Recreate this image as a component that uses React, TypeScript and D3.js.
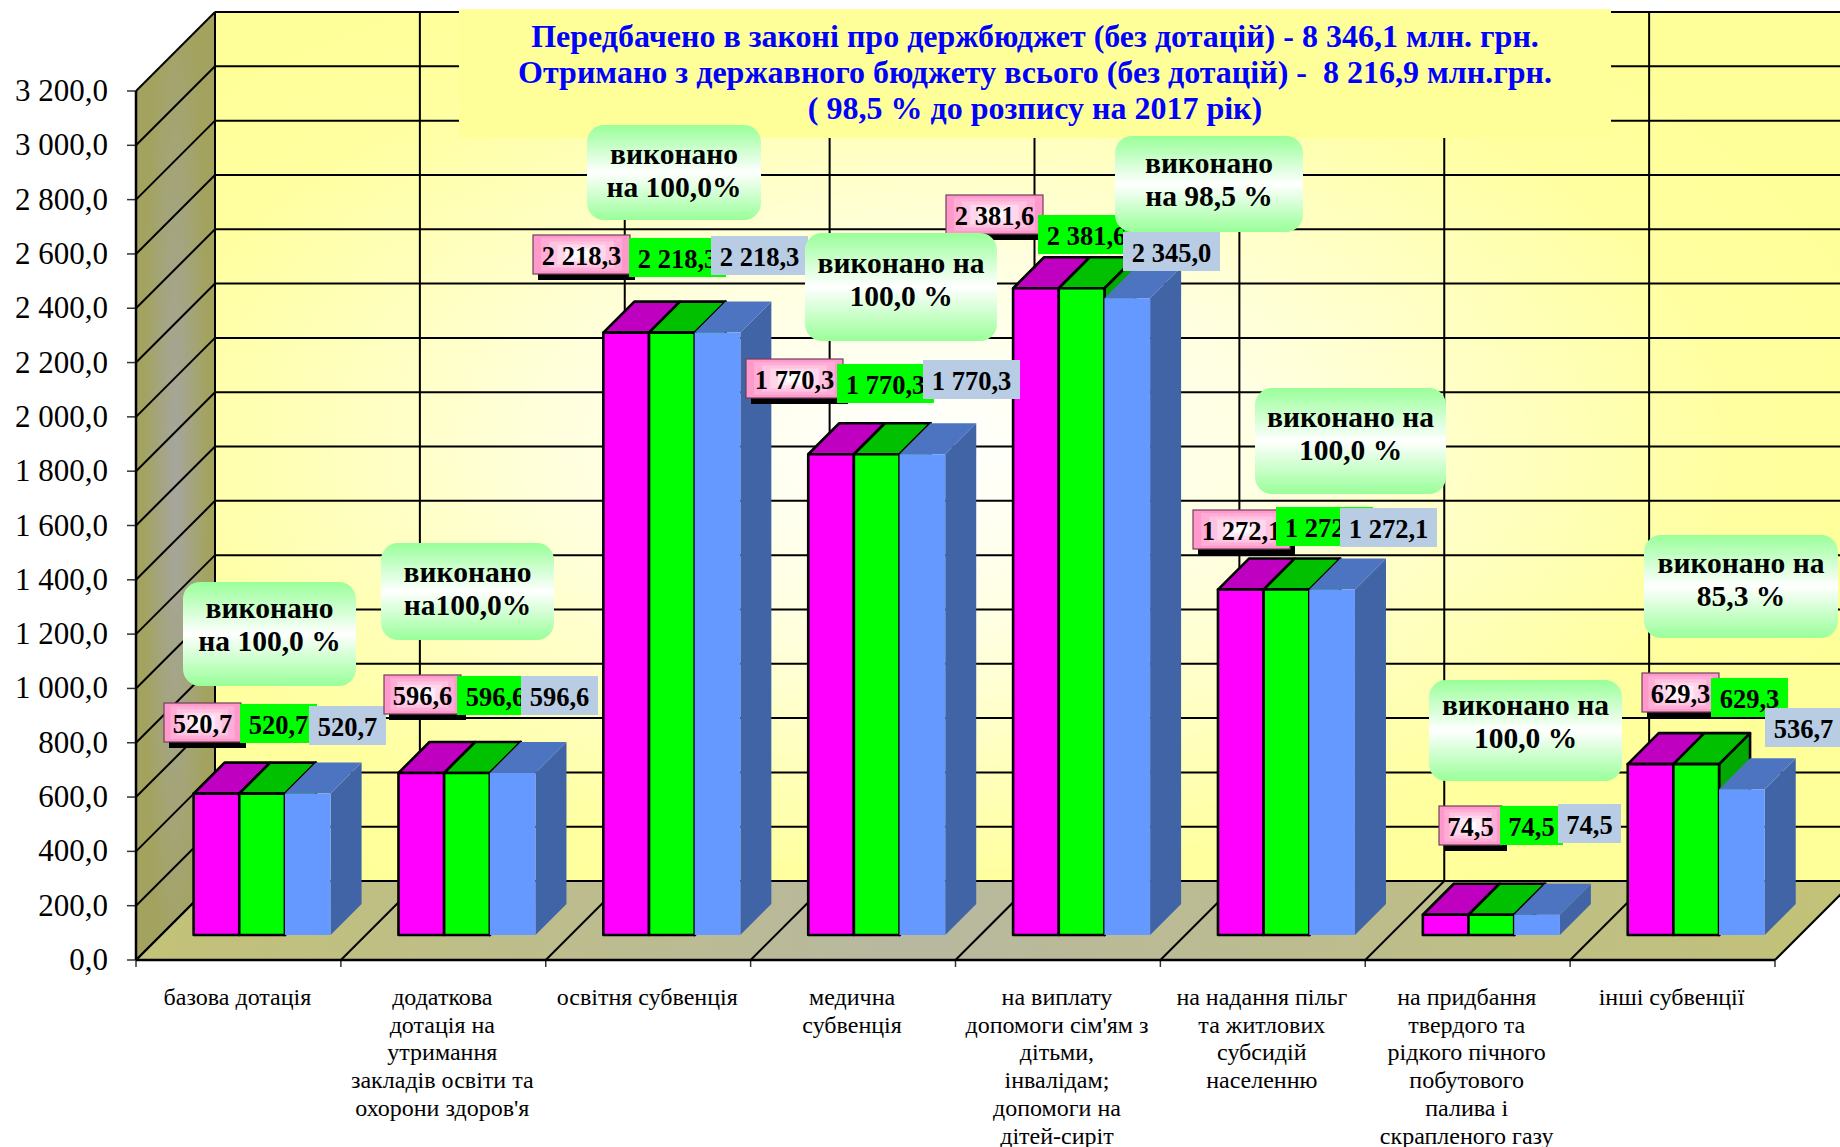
import React from 'react';
import * as d3 from 'd3';

// data
const categories = [
  'базова дотація',
  'додаткова дотація',
  'освітня субвенція',
  'медична субвенція',
  'на виплату допомоги',
  'на надання пільг',
  'на придбання палива',
  'інші субвенції',
];
const categoryLines = [
  ['базова дотація'],
  ['додаткова', 'дотація на', 'утримання', 'закладів освіти та', "охорони здоров'я"],
  ['освітня субвенція'],
  ['медична', 'субвенція'],
  ['на виплату', "допомоги сім'ям з", 'дітьми,', 'інвалідам;', 'допомоги на', 'дітей-сиріт'],
  ['на надання пільг', 'та житлових', 'субсидій', 'населенню'],
  ['на придбання', 'твердого та', 'рідкого пічного', 'побутового', 'палива і', 'скрапленого газу'],
  ['інші субвенції'],
];
const planLaw = [520.7, 596.6, 2218.3, 1770.3, 2381.6, 1272.1, 74.5, 629.3];
const planAdjusted = [520.7, 596.6, 2218.3, 1770.3, 2381.6, 1272.1, 74.5, 629.3];
const received = [520.7, 596.6, 2218.3, 1770.3, 2345.0, 1272.1, 74.5, 536.7];
const doneLines = [
  ['виконано', 'на 100,0 %'],
  ['виконано', 'на100,0%'],
  ['виконано', 'на 100,0%'],
  ['виконано на', '100,0 %'],
  ['виконано', 'на 98,5 %'],
  ['виконано на', '100,0 %'],
  ['виконано на', '100,0 %'],
  ['виконано на', '85,3 %'],
];
const titleLines = [
  'Передбачено в законі про держбюджет (без дотацій) - 8 346,1 млн. грн.',
  'Отримано з державного бюджету всього (без дотацій) -  8 216,9 млн.грн.',
  '( 98,5 % до розпису на 2017 рік)',
];
const yTicks = d3.range(0, 3201, 200);

// layout of the hand placed callouts
const doneBoxes = [
  [183, 582, 173, 104],
  [381, 543, 173, 97],
  [587, 125, 174, 95],
  [805, 233, 192, 108],
  [1115, 136, 188, 96],
  [1255, 388, 191, 106],
  [1429, 680, 193, 101],
  [1644, 535, 194, 103],
];
const doneTextY = [618, 582, 164, 273, 173, 427, 715, 573];
const pinkPos = [[164, 703], [384, 675], [533, 235], [746, 359], [946, 195], [1193, 510], [1439, 806], [1642, 673]];
const greenPos = [[240, 704], [457, 676], [629, 238], [837, 364], [1038, 215], [1276, 507], [1500, 806], [1711, 678]];
const bluePos = [[309, 706], [521, 676], [711, 236], [923, 360], [1123, 232], [1340, 508], [1558, 804], [1765, 708]];
const boxWidths = [77, 77, 97, 97, 97, 97, 63, 77];

const W = 1840;
const H = 1147;
const depth = 79;
const barDepth = 31;
const barFront = 25;

const x = d3.scaleBand<string>().domain(categories).range([136, 1775]);
const y = d3.scaleLinear().domain([0, 3200]).range([960, 91]);
const barX = d3.scaleBand<string>().domain(['a', 'b', 'c']).range([57.6, 57.6 + 137]);
const fmt = d3.formatLocale({ decimal: ',', thousands: ' ', grouping: [3], currency: ['', ''] }).format(',.1f');
const line = d3.line();
const pinkBand = d3.interpolateRgb('#ff99cc', '#ffffff');

const serif = '"Liberation Serif", "Times New Roman", serif';

function Bar({ x0, w, v, front, top, side, stroke }: any) {
  const yt = y(v) - barFront;
  const yb = y(0) - barFront;
  const x1 = x0 + w;
  const topPts: [number, number][] = [[x0, yt], [x1, yt], [x1 + barDepth, yt - barDepth], [x0 + barDepth, yt - barDepth]];
  const sidePts: [number, number][] = [[x1, yt], [x1 + barDepth, yt - barDepth], [x1 + barDepth, yb - barDepth], [x1, yb]];
  const s = stroke ? { stroke: '#000', strokeWidth: 2.6, strokeLinejoin: 'round' as const } : {};
  return (
    <g>
      {side && <path d={line(sidePts) + 'Z'} fill={side} {...s} />}
      <path d={line(topPts) + 'Z'} fill={top} {...s} />
      <rect x={x0} y={yt} width={w} height={yb - yt} fill={front} {...s} />
    </g>
  );
}

function ValueBox({ pos, w, v, fill, stroke, shadow, bands }: any) {
  return (
    <g>
      {shadow && <rect x={pos[0] + 5} y={pos[1] + 34} width={w} height={11} fill="#000" />}
      <rect x={pos[0]} y={pos[1]} width={w} height={39} fill={fill} stroke={stroke || 'none'} strokeWidth={1.2} />
      {/* stepped gradient towards the middle of the pink boxes */}
      {bands &&
        d3.range(1, 6).map((k) => (
          <rect
            key={k}
            x={pos[0] + k * (w / 12)}
            y={pos[1] + k * 3.2}
            width={w - 2 * k * (w / 12)}
            height={39 - 2 * k * 3.2}
            fill={pinkBand(k / 5)}
          />
        ))}
      <text x={pos[0] + w / 2} y={pos[1] + 29.5} textAnchor="middle" fontSize={26.5} fontWeight="bold" fontFamily={serif} fill="#000">
        {v}
      </text>
    </g>
  );
}

const App: React.FC = () => {
  const slotW = x.bandwidth();
  const edges = d3.range(0, categories.length + 1).map((i) => 136 + i * slotW);
  return (
    <svg width={W} height={H} style={{ position: 'absolute', left: 0, top: 0, display: 'block', background: '#fff' }}>
      <defs>
        <radialGradient id="wallGrad" cx="0.44" cy="0.5" r="0.62">
          <stop offset="0" stopColor="#ffffff" />
          <stop offset="0.35" stopColor="#ffffe0" />
          <stop offset="0.8" stopColor="#ffffa0" />
          <stop offset="1" stopColor="#ffff99" />
        </radialGradient>
        <linearGradient id="floorGrad" x1="0" x2="1" y1="0" y2="0">
          <stop offset="0" stopColor="#c2c277" />
          <stop offset="0.45" stopColor="#b8b8a0" />
          <stop offset="1" stopColor="#c2c277" />
        </linearGradient>
        <radialGradient id="sideGrad" cx="0.5" cy="0.5" r="0.55" gradientTransform="translate(0.5 0.5) scale(0.75 1) translate(-0.5 -0.5)">
          <stop offset="0" stopColor="#a6a6a0" />
          <stop offset="1" stopColor="#a3a35f" />
        </radialGradient>
        <linearGradient id="doneGrad" x1="0" x2="0" y1="0" y2="1">
          <stop offset="0" stopColor="#99ff99" />
          <stop offset="0.5" stopColor="#ffffff" />
          <stop offset="1" stopColor="#99ff99" />
        </linearGradient>
      </defs>

      {/* back wall, side wall, floor */}
      <rect x={136 + depth} y={y(3200) - depth} width={W - 215} height={y(0) - y(3200)} fill="url(#wallGrad)" />
      <path
        d={line([[136, y(3200)], [136 + depth, y(3200) - depth], [136 + depth, y(0) - depth], [136, y(0)]]) + 'Z'}
        fill="url(#sideGrad)"
      />
      <path
        d={line([[136, y(0)], [1775, y(0)], [1775 + depth, y(0) - depth], [136 + depth, y(0) - depth]]) + 'Z'}
        fill="url(#floorGrad)"
      />

      {/* grid */}
      {yTicks.map((t) => (
        <g key={t} stroke="#000" strokeWidth={2}>
          <line x1={136} x2={136 + depth} y1={y(t)} y2={y(t) - depth} />
          <line x1={136 + depth} x2={W} y1={y(t) - depth} y2={y(t) - depth} />
          <line x1={127} x2={136} y1={y(t)} y2={y(t)} strokeWidth={1.5} stroke="#333" />
        </g>
      ))}
      {edges.map((e) => (
        <g key={e} stroke="#000" strokeWidth={2}>
          <line x1={e + depth} x2={e + depth} y1={y(3200) - depth} y2={y(0) - depth} />
          <line x1={e} x2={e + depth} y1={y(0)} y2={y(0) - depth} />
          <line x1={e} x2={e} y1={y(0)} y2={y(0) + 7} strokeWidth={1.5} stroke="#333" />
        </g>
      ))}
      <line x1={136} x2={136} y1={y(3200)} y2={y(0)} stroke="#000" strokeWidth={2.5} />
      <line x1={136} x2={1775} y1={y(0)} y2={y(0)} stroke="#000" strokeWidth={2.5} />

      {/* y labels */}
      {yTicks.map((t) => (
        <text key={t} x={108} y={y(t) + 10} textAnchor="end" fontSize={31} fontFamily={serif} fill="#000">
          {fmt(t)}
        </text>
      ))}

      {/* x labels */}
      {categories.map((c, i) => (
        <text key={c} textAnchor="middle" fontSize={24} fontFamily={serif} fill="#000">
          {categoryLines[i].map((l, j) => (
            <tspan key={j} x={(x(c) as number) + slotW / 2 - 1} y={1005 + j * 27.7}>
              {l}
            </tspan>
          ))}
        </text>
      ))}

      {/* bars */}
      {categories.map((c, i) => {
        const sx = x(c) as number;
        const w = barX.bandwidth();
        return (
          <g key={c}>
            <Bar x0={sx + (barX('a') as number)} w={w} v={planLaw[i]} front="#ff00ff" top="#c000c0" stroke />
            <Bar x0={sx + (barX('b') as number)} w={w} v={planAdjusted[i]} front="#00ff00" top="#00c000" side="#00a800" stroke />
            <Bar x0={sx + (barX('c') as number)} w={w} v={received[i]} front="#6699ff" top="#4d74c0" side="#4064a6" />
          </g>
        );
      })}

      {/* title */}
      <rect x={459} y={9} width={1152} height={129} fill="#ffff99" />
      {titleLines.map((t, i) => (
        <text
          key={i}
          x={1035}
          y={47 + i * 36}
          textAnchor="middle"
          fontSize={32}
          fontWeight="bold"
          fontFamily={serif}
          fill="#0000ff"
          xmlSpace="preserve"
        >
          {t}
        </text>
      ))}

      {/* value boxes */}
      {categories.map((c, i) => (
        <g key={c}>
          <ValueBox pos={pinkPos[i]} w={boxWidths[i]} v={fmt(planLaw[i])} fill="#ff99cc" stroke="#70405a" shadow bands />
          <ValueBox pos={greenPos[i]} w={boxWidths[i]} v={fmt(planAdjusted[i])} fill="#00ff00" />
          <ValueBox pos={bluePos[i]} w={boxWidths[i]} v={fmt(received[i])} fill="#b8cce4" />
        </g>
      ))}

      {/* done boxes */}
      {doneBoxes.map((b, i) => (
        <g key={i}>
          <rect x={b[0]} y={b[1]} width={b[2]} height={b[3]} rx={17} fill="url(#doneGrad)" />
          {doneLines[i].map((l, j) => (
            <text
              key={j}
              x={b[0] + b[2] / 2}
              y={doneTextY[i] + j * 33}
              textAnchor="middle"
              fontSize={29.5}
              fontWeight="bold"
              fontFamily={serif}
              fill="#000"
            >
              {l}
            </text>
          ))}
        </g>
      ))}
    </svg>
  );
};

export default App;
